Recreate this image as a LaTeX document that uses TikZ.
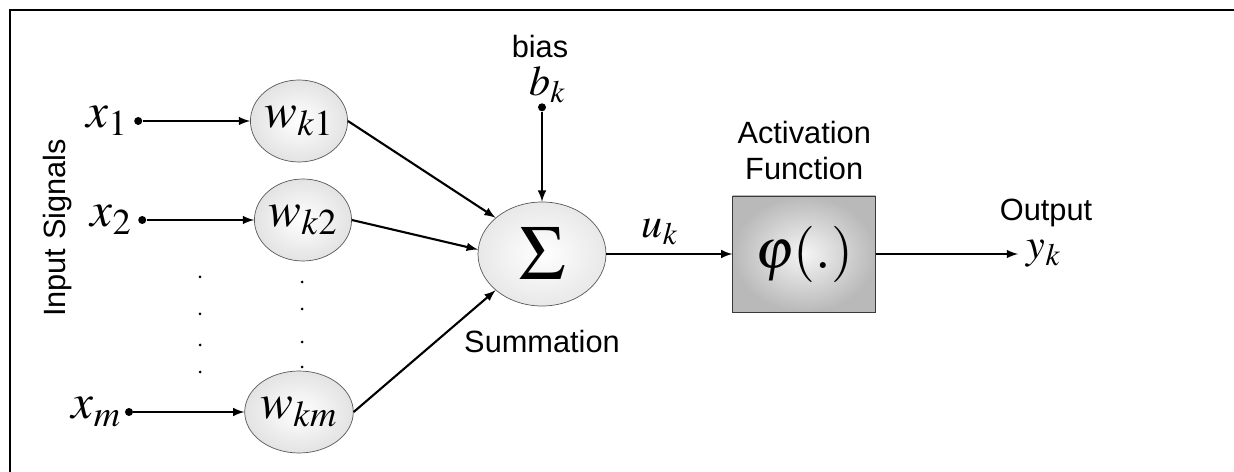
\documentclass[tikz,border=0pt]{standalone}
\usepackage{amsmath, amssymb}
\usepackage{mathptmx}
\usepackage{fontspec}
\setsansfont{Liberation Sans}
\usepackage{tikz}
\usetikzlibrary{
  shapes.geometric,%
  arrows,
  positioning,
  calc
}
\tikzset{>=latex}
\tikzset{
  weight/.style={ellipse, draw=gray!70!black, thin, inner sep=0pt,
    minimum width=1.76cm, minimum height=1.64cm,
    inner color=white, outer color=gray!22},
  summer/.style={ellipse, draw=gray!70!black, thin, inner sep=0pt,
    minimum width=2.56cm, minimum height=2.08cm,
    inner color=white, outer color=gray!18},
  actbox/.style={rectangle, draw=gray!45!black, thin,
    minimum width=2.86cm, minimum height=2.32cm,
    inner color=gray!8, outer color=gray!55},
  tap/.style={circle, fill=black, inner sep=0pt, minimum size=0.16cm},
  signal/.style={->, line width=1.2pt},
  lbl/.style={font=\fontsize{17.5}{20}\selectfont\sffamily},
  sym/.style={font=\fontsize{28}{32}\selectfont},
  symsmall/.style={font=\fontsize{24}{28}\selectfont}
}

\begin{document}
\begin{tikzpicture}
  \useasboundingbox (0,0) rectangle (24.68,9.44);
  % frame
  \draw[line width=1.6pt] (0.2,0) -- (0.2,9.24) -- (24.68,9.24);

  % weights and summing junction
  \node[weight, sym] (w1) at (5.98,7.02) {$w_{k1}$};
  \node[weight, sym] (w2) at (6.06,5.04) {$w_{k2}$};
  \node[weight, sym] (wm) at (5.98,1.20) {$w_{km}$};
  \node[summer, font=\fontsize{44}{48}\selectfont] (sum) at (10.84,4.36) {$\Sigma$};
  \node[actbox, right=2.52cm of sum, font=\fontsize{32}{36}\selectfont] (act) {$\varphi(.)$};

  % inputs
  \node[tap, left=2.15cm of w1] (in1) {};
  \node[tap, left=2.15cm of w2] (in2) {};
  \node[tap, left=2.22cm of wm] (inm) {};
  \node[sym, left=0cm of in1] (x1) {$x_1$};
  \node[sym, left=0cm of in2] (x2) {$x_2$};
  \node[sym, left=-0.05cm of inm] (xm) {$x_m$};
  \node[lbl, rotate=90] (insig) at (1.16,4.88) {Input Signals};

  % dots
  \foreach \y in {3.9,3.16,2.54,2.0}
    \fill (4.0,\y) circle (0.03);
  \foreach \y in {3.8,3.26,2.6,2.1}
    \fill (6.04,\y) circle (0.03);

  % bias
  \node[tap, above=1.8cm of sum] (btap) {};
  \node[symsmall] (bk) at (10.95,7.74) {$b_k$};
  \node[lbl] (bias) at (10.8,8.5) {bias};

  % labels
  \node[symsmall] (uk) at (13.2,4.8) {$u_k$};
  \node[lbl, below=0.35cm of sum] (summ) {Summation};
  \node[lbl, align=center, above=0.2cm of act] (actlbl) {Activation\\Function};
  \coordinate[right=2.84cm of act] (yout);
  \node[symsmall, right=0.05cm of yout] (yk) {$y_k$};
  \node[lbl] (outlbl) at (20.92,5.18) {Output};

  % connectors
  \draw[signal] (in1) -- (w1.west);
  \draw[signal] (in2) -- (w2.west);
  \draw[signal] (inm) -- (wm.west);
  \draw[signal] (w1.east) -- (sum.142);
  \draw[signal] (w2.east) -- (sum.176);
  \draw[signal] (wm.east) -- (sum.218);
  \draw[signal] (btap) -- (sum.north);
  \draw[signal] (sum.east) -- (act.west);
  \draw[signal] (act.east) -- (yout);
\end{tikzpicture}
\end{document}
